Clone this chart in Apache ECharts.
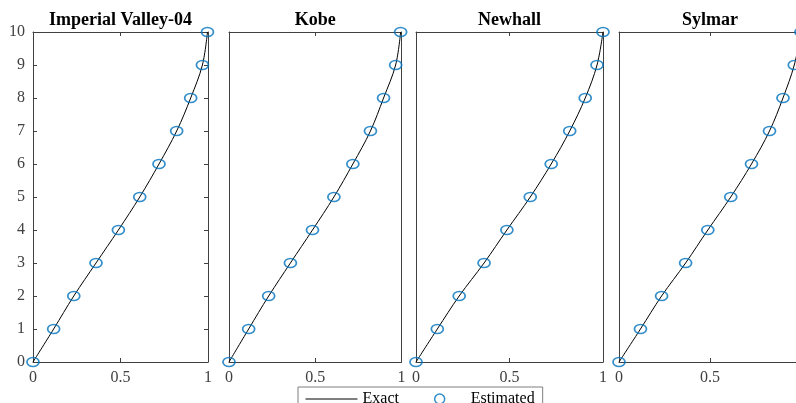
<!DOCTYPE html>
<html>
<head>
<meta charset="utf-8">
<script src="https://cdn.jsdelivr.net/npm/echarts@6/dist/echarts.min.js"></script>
<style>html,body{margin:0;padding:0;background:#fff}#c{width:796px;height:403px}</style>
</head>
<body>
<div id="c"></div>
<script>
// ---- data ----
const panelTitles = ['Imperial Valley-04', 'Kobe', 'Newhall', 'Sylmar'];
const levels = [0, 1, 2, 3, 4, 5, 6, 7, 8, 9, 10];
const imperialValley = [0, 0.118, 0.233, 0.360, 0.488, 0.610, 0.720, 0.821, 0.901, 0.968, 0.997];
const kobe = [0, 0.114, 0.230, 0.356, 0.484, 0.608, 0.718, 0.820, 0.896, 0.966, 0.995];
const newhall = [0, 0.114, 0.231, 0.364, 0.486, 0.611, 0.723, 0.822, 0.905, 0.968, 1.0];
const sylmar = [0, 0.118, 0.234, 0.366, 0.488, 0.614, 0.728, 0.827, 0.901, 0.963, 1.0];
const panelValues = [imperialValley, kobe, newhall, sylmar];
const xTicks = [0, 0.5, 1];
const yTicks = [0, 1, 2, 3, 4, 5, 6, 7, 8, 9, 10];

// ---- layout ----
const grids = [
  {left: 33, width: 175},
  {left: 229, width: 172.5},
  {left: 416, width: 187},
  {left: 619, width: 182}
];
const gTop = 32, gHeight = 330;
const axisColor = '#404040';
const font = '"Times New Roman", "Liberation Serif", serif';

const option = {
  animation: false,
  backgroundColor: '#fff',
  title: [],
  grid: [],
  xAxis: [],
  yAxis: [],
  series: [],
  legend: {
    left: 298, top: 387,
    orient: 'horizontal',
    padding: [4, 8, 10, 7],
    itemGap: 35,
    itemWidth: 52, itemHeight: 10,
    backgroundColor: '#fff',
    borderColor: '#7f7f7f', borderWidth: 1, borderRadius: 0,
    textStyle: {fontFamily: font, fontSize: 16, color: '#000'},
    data: [
      {name: 'Exact', itemStyle: {opacity: 0}, lineStyle: {width: 1, color: '#000'}},
      {name: 'Estimated', icon: 'circle',
       itemStyle: {color: 'rgba(0,0,0,0)', borderColor: '#0072BD', borderWidth: 1.5}}
    ]
  }
};

grids.forEach((g, i) => {
  option.grid.push({left: g.left, width: g.width, top: gTop, height: gHeight,
    containLabel: false, outerBoundsMode: 'none'});
  option.title.push({
    text: panelTitles[i],
    left: g.left + g.width / 2,
    textAlign: 'center',
    top: 11, padding: 0,
    textStyle: {fontFamily: font, fontWeight: 'bold', fontSize: 18, color: '#000'}
  });
  const lineStyle = {color: axisColor, width: 1};
  option.xAxis.push({
    type: 'value', gridIndex: i, min: 0, max: 1, interval: 0.5, position: 'bottom',
    axisLine: {show: true, onZero: false, lineStyle},
    axisTick: {show: true, inside: true, length: 4, lineStyle},
    axisLabel: {show: true, margin: 8, fontFamily: font, fontSize: 16, color: axisColor,
      formatter: v => String(v), customValues: xTicks},
    splitLine: {show: false}
  });
  option.xAxis.push({
    type: 'value', gridIndex: i, min: 0, max: 1, interval: 0.5, position: 'top',
    axisLine: {show: true, onZero: false, lineStyle},
    axisTick: {show: true, inside: true, length: 4, lineStyle},
    axisLabel: {show: false},
    splitLine: {show: false}
  });
  option.yAxis.push({
    type: 'value', gridIndex: i, min: 0, max: 10, interval: 1, position: 'left',
    axisLine: {show: true, onZero: false, lineStyle},
    axisTick: {show: i === 0, inside: true, length: 4, lineStyle},
    axisLabel: {show: i === 0, margin: 8, fontFamily: font, fontSize: 16, color: axisColor,
      customValues: yTicks},
    splitLine: {show: false}
  });
  option.yAxis.push({
    type: 'value', gridIndex: i, min: 0, max: 10, interval: 1, position: 'right',
    axisLine: {show: true, onZero: false, lineStyle},
    axisTick: {show: i === 0, inside: true, length: 4, lineStyle},
    axisLabel: {show: false},
    splitLine: {show: false}
  });
  const pts = panelValues[i].map((x, k) => [x, levels[k]]);
  option.series.push({
    name: 'Exact', type: 'line', xAxisIndex: 2 * i, yAxisIndex: 2 * i,
    data: pts, smooth: 0.35, symbol: 'none',
    lineStyle: {color: '#000', width: 1}, itemStyle: {color: '#000'},
    clip: false, z: 2
  });
  option.series.push({
    name: 'Estimated', type: 'scatter', xAxisIndex: 2 * i, yAxisIndex: 2 * i,
    data: pts, symbol: 'circle', symbolSize: [12, 9],
    itemStyle: {color: 'rgba(0,0,0,0)', borderColor: '#0072BD', borderWidth: 1.5},
    clip: false, z: 3
  });
});

const chart = echarts.init(document.getElementById('c'), null, {renderer: 'canvas'});
chart.setOption(option);
</script>
</body>
</html>
